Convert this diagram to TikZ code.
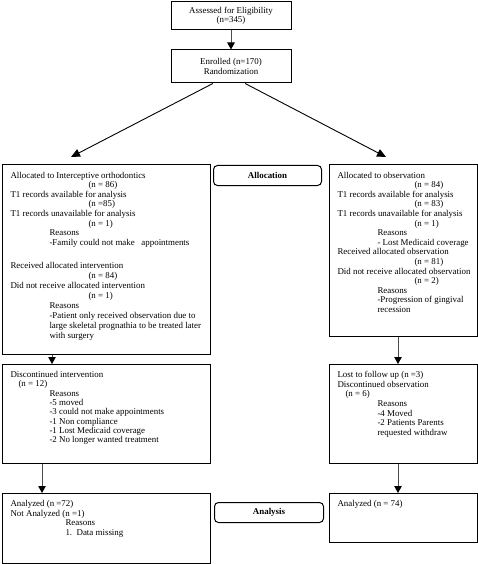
\documentclass[tikz,border=0pt]{standalone}
\usepackage{fontspec}
\setmainfont{Liberation Serif}
\usetikzlibrary{arrows.meta,calc}

\newcommand{\bxtext}[3]{\begin{minipage}[t][#2][t]{#1}\setlength\parindent{0pt}\leftskip=8pt\relax\fontsize{8.9}{9.6}\selectfont\vspace*{7pt}#3\end{minipage}}

\begin{document}
\begin{tikzpicture}[x=1pt,y=-1pt,
  box/.style={draw=black, line width=1pt, inner sep=0pt, anchor=north west},
  ttl/.style={draw=black, line width=1pt, inner sep=0pt, align=center, minimum width=120pt, font=\fontsize{8.9}{9.6}\selectfont},
  lab/.style={draw=black, line width=1pt, rounded corners=4pt, anchor=north west, minimum height=20pt, inner sep=0pt, font=\fontsize{8.9}{9.6}\selectfont\bfseries},
  arr/.style={draw=black!70, line width=1pt, -{Triangle[length=7pt,width=7.5pt,color=black]}},
  diag/.style={draw=black, line width=0.9pt, -{Triangle[length=9pt,width=8pt]}}]

\useasboundingbox[fill=white] (0,0) rectangle (478,564);

% top boxes
\node[ttl, minimum height=28pt] (assess) at (231,16) {Assessed for Eligibility\\(n=345)};
\node[ttl, minimum height=33pt] (enroll) at (231,66.5) {Enrolled (n=170)\\Randomization};

% allocation row
\node[box] (left1) at (2,164.5) {\bxtext{208pt}{189pt}{%
Allocated to Interceptive orthodontics\\
\hspace*{78pt}(n = 86)\\
T1 records available for analysis\\
\hspace*{78pt}(n =85)\\
T1 records unavailable for analysis\\
\hspace*{78pt}(n = 1)\\
\hspace*{39pt}Reasons\\
\hspace*{39pt}-Family could not make~~ appointments\\[14pt]
Received allocated intervention\\
\hspace*{78pt}(n = 84)\\[0.3pt]
Did not receive allocated intervention\\[0.3pt]
\hspace*{78pt}(n = 1)\\[0.3pt]
\hspace*{39pt}Reasons\\[0.5pt]
\hspace*{39pt}-Patient only received observation due to\\[0.5pt]
\hspace*{39pt}large skeletal prognathia to be treated later\\[0.5pt]
\hspace*{39pt}with surgery}};

\node[lab, minimum width=108pt] (alloc) at (213,165) {Allocation};

\node[box] (right1) at (329,164.5) {\bxtext{148pt}{171.5pt}{%
Allocated to observation\\
\hspace*{77pt}(n = 84)\\
T1 records available for analysis\\
\hspace*{77pt}(n = 83)\\
T1 records unavailable for analysis\\
\hspace*{77pt}(n = 1)\\
\hspace*{40pt}Reasons\\
\hspace*{40pt}- Lost Medicaid coverage\\
Received allocated observation\\
\hspace*{77pt}(n = 81)\\
Did not receive allocated observation\\
\hspace*{77pt}(n = 2)\\
\hspace*{40pt}Reasons\\
\hspace*{40pt}-Progression of gingival\\
\hspace*{40pt}recession}};

% follow-up row
\node[box] (left2) at (2,364) {\bxtext{208pt}{99pt}{%
Discontinued intervention\\[-0.3pt]
\hspace*{8pt}(n = 12)\\[-0.3pt]
\hspace*{39pt}Reasons\\[-0.3pt]
\hspace*{39pt}-5 moved\\[-0.3pt]
\hspace*{39pt}-3 could not make appointments\\[-0.3pt]
\hspace*{39pt}-1 Non compliance\\[-0.3pt]
\hspace*{39pt}-1 Lost Medicaid coverage\\[-0.3pt]
\hspace*{39pt}-2 No longer wanted treatment}};

\node[box] (right2) at (329,364) {\bxtext{148pt}{99pt}{%
Lost to follow up (n =3)\\
Discontinued observation\\
\hspace*{8pt}(n = 6)\\
\hspace*{40pt}Reasons\\
\hspace*{40pt}-4 Moved\\
\hspace*{40pt}-2 Patients Parents\\
\hspace*{40pt}requested withdraw}};

% analysis row
\node[box] (left3) at (2,493) {\bxtext{208pt}{70pt}{%
Analyzed (n =72)\\
Not Analyzed (n =1)\\
\hspace*{55pt}Reasons\\
\hspace*{55pt}1.\ \ Data missing}};

\node[lab, minimum width=109pt] (analysis) at (214,502) {Analysis};

\node[box] (right3) at (329,493) {\bxtext{148pt}{49pt}{%
Analyzed (n = 74)}};

% connectors
\draw[arr] (assess.south) -- (enroll.north);
\coordinate (tipL) at (71,157);
\coordinate (tipR) at (386,157);
\draw[diag] ($(enroll.south west)!0.35!(enroll.south east)$) -- (tipL);
\draw[diag] ($(enroll.south west)!0.617!(enroll.south east)$) -- (tipR);
\draw[arr] ([xshift=50pt]left1.south west) -- ([xshift=50pt]left2.north west);
\draw[arr] ([xshift=40pt]left2.south west) -- ([xshift=40pt]left3.north west);
\draw[arr] ([xshift=69pt]right1.south west) -- ([xshift=69pt]right2.north west);
\draw[arr] ([xshift=69pt]right2.south west) -- ([xshift=69pt]right3.north west);
\end{tikzpicture}
\end{document}
